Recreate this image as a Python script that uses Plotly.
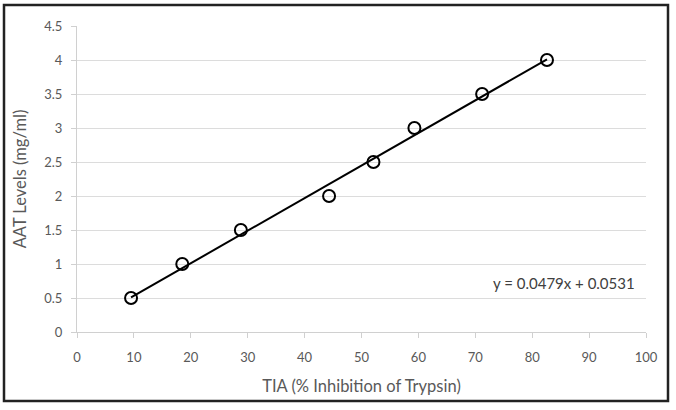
import plotly.graph_objects as go

# Data
tia = [9.5, 18.5, 28.8, 44.3, 52.1, 59.3, 71.2, 82.6]
aat = [0.5, 1.0, 1.5, 2.0, 2.5, 3.0, 3.5, 4.0]
slope = 0.0479
intercept = 0.0531
eq_label = "y = 0.0479x + 0.0531"
x_title = "TIA (% Inhibition of Trypsin)"
y_title = "AAT Levels (mg/ml)"

trend_x = [min(tia), max(tia)]
trend_y = [slope * v + intercept for v in trend_x]

FONT = "Lato, Open Sans, sans-serif"
GRAY = "#595959"

fig = go.Figure()
fig.add_trace(go.Scatter(x=trend_x, y=trend_y, mode="lines",
                         line=dict(color="black", width=2), showlegend=False))
fig.add_trace(go.Scatter(x=tia, y=aat, mode="markers",
                         marker=dict(symbol="circle-open", size=12,
                                     color="black", line=dict(width=2)),
                         showlegend=False))

fig.update_layout(
    width=676, height=410,
    margin=dict(l=77, r=30, t=26, b=78),
    paper_bgcolor="white", plot_bgcolor="white",
    font=dict(family=FONT, color=GRAY, size=13),
    xaxis=dict(range=[0, 100], dtick=10, showgrid=False, zeroline=False,
               showline=True, linecolor="#d0d0d0", linewidth=1,
               ticks="outside", ticklen=5, tickcolor="#d0d0d0",
               ticklabelstandoff=8,
               tickfont=dict(size=13, color=GRAY),
               title=dict(text=x_title, font=dict(size=16.5, color=GRAY), standoff=16)),
    yaxis=dict(range=[0, 4.5], dtick=0.5, showgrid=True, gridcolor="#dcdcdc",
               gridwidth=1, zeroline=False,
               showline=True, linecolor="#d0d0d0", linewidth=1,
               ticks="outside", ticklen=5, tickcolor="#d0d0d0",
               ticklabelstandoff=6,
               tickfont=dict(size=13, color=GRAY),
               title=dict(text=y_title, font=dict(size=16.5, color=GRAY), standoff=13)),
)

fig.add_annotation(x=0.985, y=(332 - 283) / 306, xref="paper", yref="paper",
                   text=eq_label, showarrow=False, xanchor="right", yanchor="middle",
                   font=dict(size=15, color="#404040", family=FONT))

# outer frame
fig.add_shape(type="rect", xref="paper", yref="paper",
              x0=(4 - 77) / 569, x1=(668 - 77) / 569,
              y0=(332 - 401) / 306, y1=(332 - 5) / 306,
              line=dict(color="#222222", width=2.5), layer="above")

fig.write_html("out.html", config={"displayModeBar": False},
               post_script="document.body.style.margin='0';")
